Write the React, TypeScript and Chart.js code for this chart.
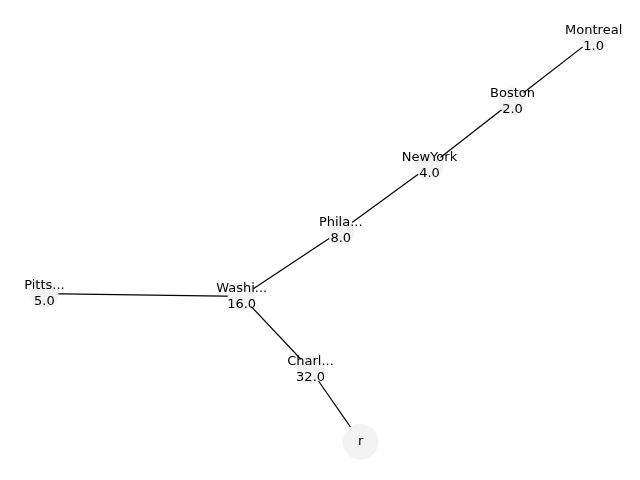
import React, { useRef, useEffect } from "react";
import { Chart, registerables } from "chart.js";

Chart.register(...registerables);

const names = ["Montreal", "Boston", "NewYork", "Phila...", "Washi...", "Pitts...", "Charl...", "r"];
const values = ["1.0", "2.0", "4.0", "8.0", "16.0", "5.0", "32.0", ""];
const nodeX = [610, 524, 436, 342, 237, 28, 310, 363];
const nodeY = [22, 90, 160, 230, 301, 298, 380, 458];
const nodeR = [14, 14, 14, 14, 14, 14, 14, 18];
const edges = [
  [0, 1],
  [1, 2],
  [2, 3],
  [3, 4],
  [4, 5],
  [4, 6],
  [6, 7],
];

const labelPlugin = {
  id: "nodeLabels",
  afterDatasetsDraw(chart: any) {
    const { ctx, scales } = chart;
    ctx.save();
    ctx.fillStyle = "#000";
    ctx.font = "13px 'DejaVu Sans'";
    ctx.textAlign = "center";
    ctx.textBaseline = "middle";
    names.forEach((n, i) => {
      const x = scales.x.getPixelForValue(nodeX[i]);
      const y = scales.y.getPixelForValue(nodeY[i]);
      if (values[i]) {
        ctx.fillText(n, x, y - 8);
        ctx.fillText(values[i], x, y + 8);
      } else {
        ctx.fillText(n, x, y);
      }
    });
    ctx.restore();
  },
};

export default function App() {
  const ref = useRef<HTMLCanvasElement | null>(null);
  useEffect(() => {
    document.body.style.margin = "0";
    if (!ref.current) return;
    const edgeSets = edges.map(([a, b]) => ({
      data: [
        { x: nodeX[a], y: nodeY[a] },
        { x: nodeX[b], y: nodeY[b] },
      ],
      showLine: true,
      borderColor: "#000",
      borderWidth: 1.2,
      pointRadius: 0,
      order: 1,
    }));
    const chart = new Chart(ref.current, {
      type: "scatter",
      data: {
        datasets: [
          {
            data: nodeX.map((x, i) => ({ x, y: nodeY[i] })),
            pointRadius: nodeR,
            pointBackgroundColor: "#f3f3f3",
            pointBorderWidth: 0,
            order: 0,
          },
          ...edgeSets,
        ] as any,
      },
      options: {
        animation: false,
        responsive: false,
        layout: { padding: 0 },
        plugins: { legend: { display: false }, tooltip: { enabled: false } },
        scales: {
          x: { type: "linear", min: 0, max: 640, display: false },
          y: { type: "linear", min: 0, max: 480, reverse: true, display: false },
        },
      },
      plugins: [labelPlugin],
    });
    return () => chart.destroy();
  }, []);
  return <canvas ref={ref} width={640} height={480} />;
}
